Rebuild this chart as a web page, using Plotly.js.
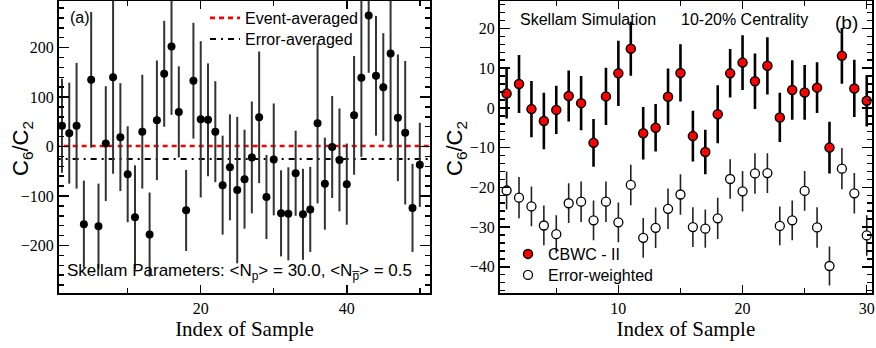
<!DOCTYPE html>
<html>
<head>
<meta charset="utf-8">
<script src="https://cdn.plot.ly/plotly-3.0.1.min.js"></script>
<style>html,body{margin:0;padding:0;background:#fff}#chart{width:876px;height:348px}</style>
</head>
<body>
<div id="chart"></div>
<script>
// ---- Panel (a): 50 samples ----
const samplesA = Array.from({length: 50}, (_, i) => i + 1);
const c6c2A = [42, 27, 42, -157, 135, -161, 6, 140, 19, -56,
               -143, 30, -178, 53, 147, 202, 70, -129, 133, 55,
               54, 30, -78, -42, -88, -66, -22, 59, -102, -26,
               -135, -136, -54, -137, -127, 47, -75, -1, -27, -76,
               63, 139, 265, 143, 120, 188, 58, 28, -124, -37];
const errA = [95, 102, 127, 88, 137, 86, 116, 195, 109, 97,
              105, 115, 85, 121, 107, 138, 92, 82, 117, 158,
              114, 102, 100, 107, 148, 100, 113, 133, 85, 113,
              87, 94, 86, 92, 86, 162, 93, 103, 104, 82,
              120, 160, 116, 121, 109, 190, 128, 145, 89, 85];
const eventAveraged = 1;
const errorAveraged = -25;
const lineSpanA = [0, samplesA.length + 2];

// ---- Panel (b): 30 samples ----
const samplesB = Array.from({length: 30}, (_, i) => i + 1);
const cbwc = [3.6, 6.0, -0.3, -3.3, -0.5, 3.0, 1.2, -8.8, 2.9, 8.7,
              14.9, -6.4, -5.0, 2.8, 8.8, -7.1, -11.1, -1.6, 8.7, 11.4,
              6.7, 10.6, -2.4, 4.5, 3.9, 5.1, -10.0, 13.1, 4.9, 1.8];
const cbwcErr = [6.3, 7.3, 7.1, 7.1, 6.1, 6.4, 6.8, 6.0, 7.2, 8.2,
                 6.8, 6.6, 6.0, 7.1, 7.2, 6.4, 5.6, 7.3, 6.1, 6.9,
                 7.0, 7.2, 6.2, 7.5, 6.9, 6.4, 6.5, 7.0, 7.2, 6.5];
const errW = [-20.8, -22.6, -24.8, -29.6, -31.8, -24.0, -23.6, -28.3, -23.6, -28.8,
              -19.4, -32.7, -30.2, -25.4, -21.8, -30.0, -30.4, -27.8, -17.9, -21.0,
              -16.5, -16.4, -29.7, -28.3, -20.9, -30.1, -39.8, -15.3, -21.5, -32.1];
const errWErr = [4.8, 5.2, 5.0, 5.0, 4.8, 5.0, 5.1, 5.0, 5.1, 5.0,
                 5.1, 5.0, 5.1, 5.1, 5.1, 5.0, 4.8, 5.2, 5.0, 5.1,
                 5.1, 5.0, 4.9, 5.0, 5.0, 5.1, 4.9, 5.2, 5.1, 5.1];

const traces = [
  {x: lineSpanA, y: lineSpanA.map(() => eventAveraged), mode: 'lines', name: 'Event-averaged',
   line: {color: '#ff0000', width: 2.6, dash: '5px,4px'}, xaxis: 'x', yaxis: 'y', legend: 'legend', hoverinfo: 'skip'},
  {x: lineSpanA, y: lineSpanA.map(() => errorAveraged), mode: 'lines', name: 'Error-averaged',
   line: {color: '#000', width: 2, dash: '6px,5px,2px,5px'}, xaxis: 'x', yaxis: 'y', legend: 'legend2', hoverinfo: 'skip'},
  {x: samplesA, y: c6c2A, mode: 'markers', showlegend: false,
   marker: {color: '#000', size: 8},
   error_y: {type: 'data', array: errA, visible: true, thickness: 2, width: 0, color: '#333'},
   xaxis: 'x', yaxis: 'y'},
  {x: samplesB, y: cbwc, mode: 'markers', name: 'CBWC - II',
   marker: {color: '#ff0000', size: 9, line: {color: '#000', width: 1.5}},
   error_y: {type: 'data', array: cbwcErr, visible: true, thickness: 2.6, width: 0, color: '#000'},
   xaxis: 'x2', yaxis: 'y2', legend: 'legend3'},
  {x: samplesB, y: errW, mode: 'markers', name: 'Error-weighted',
   marker: {color: '#fff', size: 9, line: {color: '#000', width: 1.3}},
   error_y: {type: 'data', array: errWErr, visible: true, thickness: 1.6, width: 0, color: '#222'},
   xaxis: 'x2', yaxis: 'y2', legend: 'legend4'}
];

const tickFont = {family: 'Liberation Serif, Times New Roman, serif', size: 16, color: '#000'};
const baseAxis = {
  showline: true, linecolor: '#000', linewidth: 2, mirror: 'ticks',
  ticks: 'inside', tickcolor: '#000', tickwidth: 1.5,
  showgrid: false, zeroline: false, tickfont: tickFont
};
const yDomain = [0.158, 0.997];
const legendBase = {xanchor: 'left', yanchor: 'middle', bgcolor: 'rgba(0,0,0,0)', borderwidth: 0, font: {size: 16}};
function legendAt(px, py) { return Object.assign({}, legendBase, {x: px / 876, y: 1 - py / 348}); }

const layout = {
  width: 876, height: 348,
  margin: {l: 0, r: 0, t: 0, b: 0},
  paper_bgcolor: '#fff', plot_bgcolor: '#fff',
  font: {family: 'Liberation Sans, Arial, sans-serif', size: 16, color: '#000'},
  xaxis: Object.assign({}, baseAxis, {
    domain: [0.0674, 0.4909], range: [0.6, 51.4], dtick: 20, tick0: 0, ticklen: 8,
    minor: {dtick: 10, ticklen: 5, ticks: 'inside', tickcolor: '#000', tickwidth: 1.5},
    title: {text: 'Index of Sample', font: {family: 'Liberation Serif, Times New Roman, serif', size: 21}, standoff: 3}
  }),
  yaxis: Object.assign({}, baseAxis, {
    domain: yDomain, range: [-296, 294], dtick: 100, tick0: 0, ticklen: 10,
    minor: {dtick: 20, ticklen: 5, ticks: 'inside', tickcolor: '#000', tickwidth: 1.5}
  }),
  xaxis2: Object.assign({}, baseAxis, {
    domain: [0.5708, 0.9951], range: [0.47, 30.4], dtick: 10, tick0: 0, ticklen: 8, anchor: 'y2',
    minor: {dtick: 5, ticklen: 5, ticks: 'inside', tickcolor: '#000', tickwidth: 1.5},
    title: {text: 'Index of Sample', font: {family: 'Liberation Serif, Times New Roman, serif', size: 21}, standoff: 3}
  }),
  yaxis2: Object.assign({}, baseAxis, {
    domain: yDomain, range: [-46.6, 26.9], dtick: 10, tick0: 0, ticklen: 10, anchor: 'x2',
    minor: {dtick: 2, ticklen: 5, ticks: 'inside', tickcolor: '#000', tickwidth: 1.5}
  }),
  legend: legendAt(205, 18),
  legend2: legendAt(205, 39),
  legend3: legendAt(508, 254),
  legend4: legendAt(508, 275),
  annotations: [
    {text: 'C<sub>6</sub>/C<sub>2</sub>', xref: 'paper', yref: 'paper', x: 22 / 876, y: 1 - 149 / 348,
     textangle: -90, showarrow: false, font: {size: 22}, xanchor: 'center', yanchor: 'middle'},
    {text: 'C<sub>6</sub>/C<sub>2</sub>', xref: 'paper', yref: 'paper', x: 456 / 876, y: 1 - 149 / 348,
     textangle: -90, showarrow: false, font: {size: 22}, xanchor: 'center', yanchor: 'middle'},
    {text: '(a)', xref: 'paper', yref: 'paper', x: 68 / 876, y: 1 - 18 / 348, showarrow: false,
     xanchor: 'left', yanchor: 'middle', font: {size: 16}},
    {text: 'Skellam Parameters: &lt;N<sub>p</sub>&gt; = 30.0, &lt;N<sub>p\u0305</sub>&gt; = 0.5', xref: 'paper', yref: 'paper',
     x: 65 / 876, y: 1 - 272 / 348, showarrow: false, xanchor: 'left', yanchor: 'middle', font: {size: 17}},
    {text: 'Skellam Simulation', xref: 'paper', yref: 'paper', x: 518 / 876, y: 1 - 19 / 348, showarrow: false,
     xanchor: 'left', yanchor: 'middle', font: {size: 16}},
    {text: '10-20% Centrality', xref: 'paper', yref: 'paper', x: 679 / 876, y: 1 - 19 / 348, showarrow: false,
     xanchor: 'left', yanchor: 'middle', font: {size: 16}},
    {text: '(b)', xref: 'paper', yref: 'paper', x: 833 / 876, y: 1 - 22.5 / 348, showarrow: false,
     xanchor: 'left', yanchor: 'middle', font: {size: 19}}
  ]
};

Plotly.newPlot('chart', traces, layout, {staticPlot: true, displayModeBar: false});
</script>
</body>
</html>
